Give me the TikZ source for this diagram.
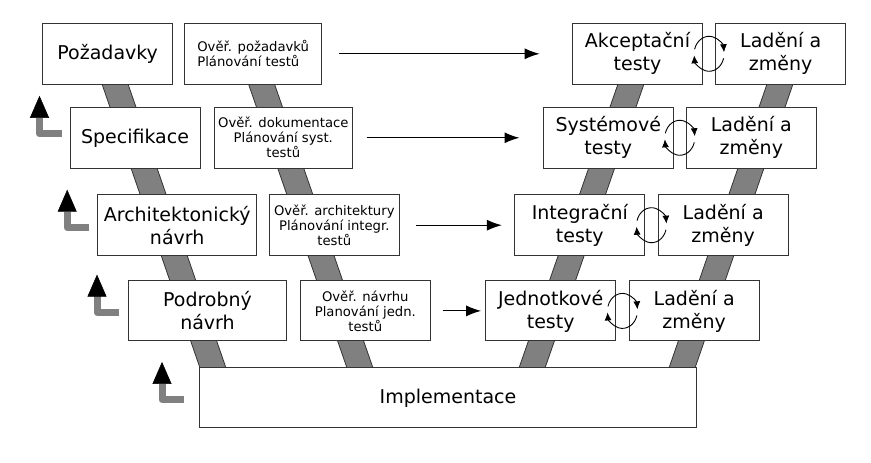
\documentclass[tikz,border=0pt]{standalone}
\usepackage{fontspec}
\setmainfont{DejaVu Sans}
\usetikzlibrary{arrows.meta}

\begin{document}
\begin{tikzpicture}[x=1pt, y=1pt,
		phase/.style={draw=black!80, line width=1pt, fill=white, minimum width=130pt, minimum height=61pt, align=center, font=\fontsize{19}{23}\selectfont},
		check/.style={phase, font=\fontsize{13.2}{15}\selectfont},
		band/.style={draw=black!80, line width=0.8pt, fill=black!50},
		flow/.style={line width=1.2pt, -{Latex[length=15pt,width=11pt]}},
		loopback/.style={line width=0.9pt, -{Latex[length=8pt,width=7pt]}},
		retreat/.style={line width=7pt, black!50, line join=round, -{Triangle[length=22pt,width=19pt,color=black,line width=0.5pt]}}]
			\useasboundingbox (0,0) rectangle (871,463);
			% the two arms of the V
			\draw[band] (102,379) -- (128,379) -- (226,95) -- (200,95) -- cycle;
			\draw[band] (248.5,379) -- (274.5,379) -- (373,95) -- (347,95) -- cycle;
			\draw[band] (618,379) -- (644,379) -- (545,95) -- (519,95) -- cycle;
			\draw[band] (767,379) -- (793,379) -- (695,95) -- (669,95) -- cycle;
			% left side
			\node[phase] (req) at (107.7,409.2) {Požadavky};
			\node[check, minimum width=137pt, align=left] (vreq) at (253.2,409.2) {Ověř. požadavků\\Plánování testů};
			\node[phase] (spec) at (135,325.2) {Specifikace};
			\node[check, minimum width=138pt] (vspec) at (283.3,325.2) {Ověř. dokumentace\\Plánování syst.\\testů};
			\node[phase, minimum width=159pt] (arch) at (177.2,237.8) {Architektonický\\návrh};
			\node[check] (varch) at (334.3,237.8) {Ověř. architektury\\Plánování integr.\\testů};
			\node[phase, minimum width=158pt, minimum height=60pt] (det) at (207.5,152.1) {Podrobný\\návrh};
			\node[check, minimum height=60pt] (vdet) at (365.3,152.1) {Ověř. návrhu\\Planování jedn.\\testů};
			\node[phase, minimum width=497pt, minimum height=60pt] (impl) at (448,65.1) {Implementace};
			% right side
			\node[phase] (acc) at (637.5,409.2) {Akceptační\\testy};
			\node[phase] (fix1) at (780.7,409.2) {Ladění a\\změny};
			\node[phase] (sys) at (608.3,325.2) {Systémové\\testy};
			\node[phase] (fix2) at (751.3,325.2) {Ladění a\\změny};
			\node[phase] (int) at (579.8,237.8) {Integrační\\testy};
			\node[phase] (fix3) at (723.2,237.8) {Ladění a\\změny};
			\node[phase, minimum height=60pt] (unit) at (550.7,152.1) {Jednotkové\\testy};
			\node[phase, minimum height=60pt] (fix4) at (694.2,152.1) {Ladění a\\změny};
			% verification leads to testing
			\draw[flow, shorten <=16.6pt, shorten >=32.3pt] (vreq.east) -- (acc.west);
			\draw[flow, shorten <=13.7pt, shorten >=23.3pt] (vspec.east) -- (sys.west);
			\draw[flow, shorten <=15.7pt, shorten >=12.4pt] (varch.east) -- (int.west);
			\draw[flow, shorten <=11.7pt, shorten >=4pt] (vdet.east) -- (unit.west);
			% test / fix cycles
			\foreach \t/\f in {acc/fix1, sys/fix2, int/fix3, unit/fix4} {
				\path (\t.east) -- coordinate (mid) (\f.west);
				\draw[loopback] (mid) ++(165:15pt and 17.5pt) arc[start angle=165, end angle=5, x radius=15pt, y radius=17.5pt];
				\draw[loopback] (mid) ++(-15:15pt and 17.5pt) arc[start angle=-15, end angle=-175, x radius=15pt, y radius=17.5pt];
			}
			% steps back up
			\foreach \n/\g/\h in {spec/8/4, arch/8/-2.5, det/9/-1.7, impl/15/-2}
				\draw[retreat] ([xshift=-\g pt, yshift=\h pt]\n.west) -- ++(-22,0) -- ++(0,38);
		\end{tikzpicture}
\end{document}
